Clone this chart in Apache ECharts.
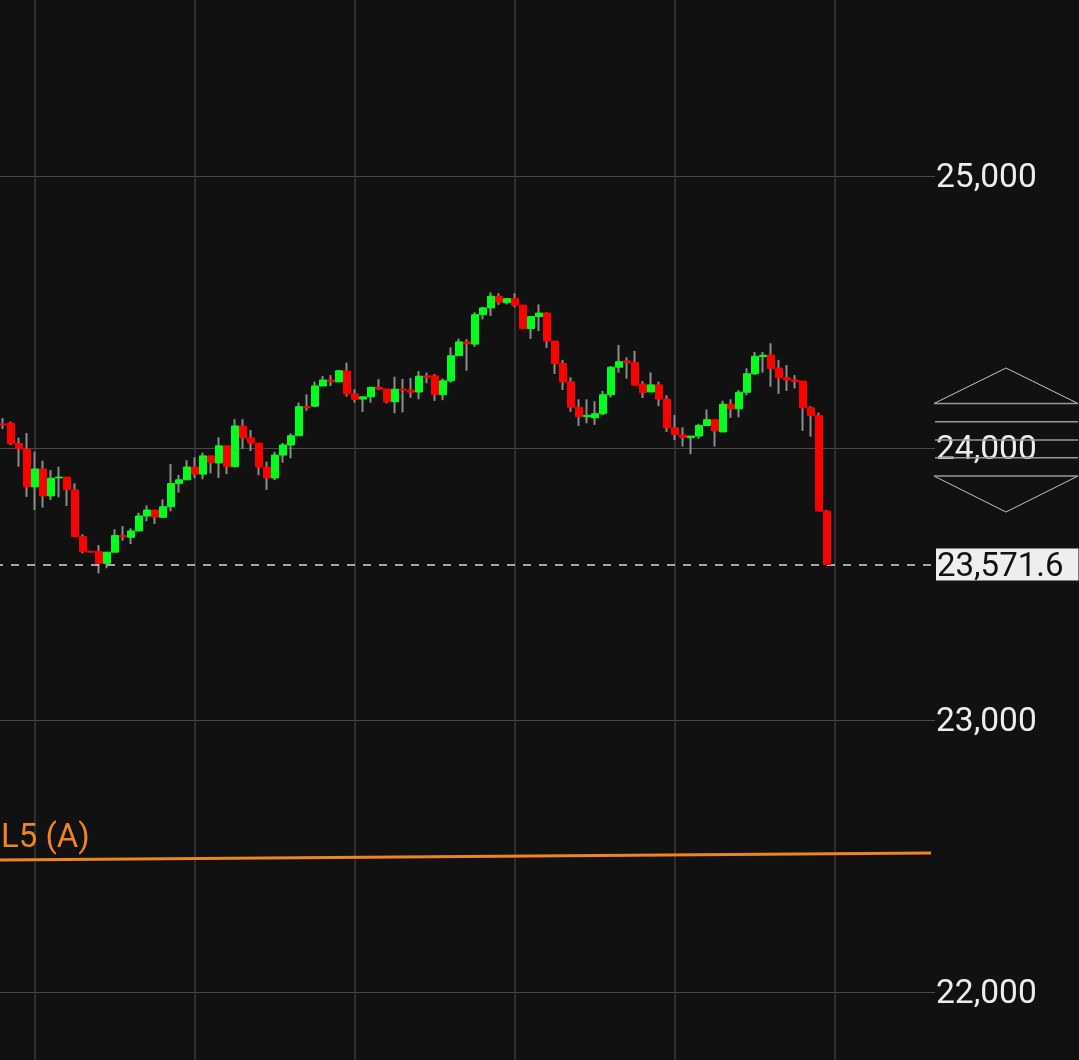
<!DOCTYPE html>
<html>
<head>
<meta charset="utf-8">
<style>
  html, body { margin: 0; padding: 0; background: #111; }
  #chart { width: 1079px; height: 1060px; }
</style>
<script src="https://cdn.jsdelivr.net/npm/echarts@6/dist/echarts.min.js"></script>
</head>
<body>
<div id="chart"></div>
<script>
var opens = [24088,24091,24016,23996,23857,23923,23824,23890,23893,23846,23674,23620,23619,23576,23617,23678,23672,23695,23750,23772,
  23745,23784,23869,23883,23930,23904,23971,23945,24008,23931,24081,24037,24018,23930,23890,23974,24011,24045,24152,24154,
  24228,24250,24243,24283,24199,24180,24188,24223,24217,24170,24217,24213,24206,24265,24265,24196,24247,24339,24390,24382,
  24490,24515,24558,24534,24549,24525,24439,24483,24496,24393,24311,24243,24150,24115,24111,24126,24196,24297,24320,24314,
  24235,24206,24232,24180,24074,24048,24038,24044,24083,24104,24059,24161,24144,24205,24273,24336,24342,24294,24258,24250,
  24246,24148,24119,23768];
var closes = [24085,24016,23997,23857,23923,23824,23889,23893,23847,23674,23619,23617,23576,23617,23678,23673,23695,23750,23772,23746,
  23784,23869,23883,23930,23904,23971,23946,24008,23931,24081,24037,24018,23930,23890,23974,24011,24045,24152,24148,24228,
  24250,24244,24284,24199,24179,24188,24223,24217,24170,24216,24213,24205,24264,24260,24196,24247,24339,24390,24383,24490,
  24515,24558,24536,24549,24525,24439,24483,24496,24393,24311,24243,24150,24115,24120,24126,24196,24297,24317,24314,24231,
  24204,24232,24180,24074,24050,24038,24044,24083,24104,24063,24161,24144,24205,24273,24337,24341,24292,24258,24250,24245,
  24148,24119,23768,23571.6];
var lows = [24070,24011,23931,23820,23772,23781,23809,23819,23787,23674,23613,23617,23539,23558,23617,23659,23647,23695,23731,23721,
  23745,23767,23836,23883,23889,23885,23907,23890,23904,23931,23997,23989,23900,23846,23882,23946,23962,24045,24137,24150,
  24228,24228,24243,24189,24167,24133,24167,24213,24164,24128,24131,24185,24179,24238,24173,24176,24240,24339,24284,24372,
  24473,24485,24526,24528,24517,24439,24401,24430,24368,24272,24213,24133,24081,24091,24085,24121,24186,24277,24255,24231,
  24184,24206,24154,24059,24029,24005,23977,24034,24081,24005,24059,24111,24113,24194,24268,24277,24225,24199,24210,24219,
  24063,24042,23768,23569];
var highs = [24110,24097,24038,24055,23986,23953,23919,23931,23893,23870,23683,23620,23643,23618,23701,23713,23705,23762,23789,23772,
  23811,23941,23901,23955,23966,23983,23971,24039,24008,24106,24106,24066,24018,23950,23986,24019,24054,24167,24197,24244,
  24265,24268,24287,24314,24216,24188,24225,24253,24217,24262,24254,24258,24283,24277,24272,24256,24370,24402,24400,24499,
  24519,24572,24569,24551,24569,24525,24485,24528,24499,24393,24324,24260,24179,24179,24172,24210,24301,24379,24333,24357,
  24246,24278,24244,24194,24121,24076,24044,24089,24142,24104,24174,24179,24213,24293,24353,24353,24385,24324,24305,24268,
  24246,24154,24130,23772];

var lastPrice = 23571.6;
var l5Values = [22485, 22511];
var l5Name = 'L5 (A)';
var yMin = 21000, yMax = 26000, yStep = 1000;

var padLeft = 1, padRight = 13;   // empty slots so the candles sit where they do in the app
var categories = [];
var wicks = [], bodies = [];
var i;
for (i = 0; i < padLeft + opens.length + padRight; i++) categories.push(String(i));
for (i = 0; i < padLeft; i++) { wicks.push('-'); bodies.push('-'); }
for (i = 0; i < opens.length; i++) {
  wicks.push([opens[i], closes[i], lows[i], highs[i]]);
  // body only, wick comes from the series under it
  bodies.push([opens[i], closes[i], Math.min(opens[i], closes[i]), Math.max(opens[i], closes[i])]);
}

var chart = echarts.init(document.getElementById('chart'));

var option = {
  backgroundColor: '#111111',
  animation: false,
  grid: { left: -5, width: 936, top: -96, height: 1360, outerBoundsMode: 'none' },
  xAxis: {
    type: 'category',
    data: categories,
    boundaryGap: false,
    axisLine: { show: false },
    axisTick: { show: false },
    axisLabel: { show: false },
    splitLine: {
      show: true,
      interval: function (idx) { return idx % 20 === 5; },
      lineStyle: { color: '#3a3a3a', width: 1.5 }
    }
  },
  yAxis: {
    type: 'value',
    position: 'right',
    min: yMin,
    max: yMax,
    interval: yStep,
    axisLine: { show: false },
    axisTick: { show: true, length: 4, lineStyle: { color: '#4a4a4a' } },
    axisLabel: {
      margin: 5,
      formatter: function (v) { return '{p|' + v.toLocaleString('en-US') + '}'; },
      rich: {
        p: { color: '#eeeeee', fontFamily: 'Roboto', fontSize: 33.5, lineHeight: 30, padding: [6, 0, 0, 0] }
      }
    },
    splitLine: { show: true, lineStyle: { color: '#4a4a4a', width: 1 } }
  },
  graphic: [
    // drag handle at the right
    { type: 'polyline', silent: true, z: 1, shape: { points: [[934, 403.5], [1006, 368], [1078, 403.5]] }, style: { stroke: '#c4c4c4', lineWidth: 1, fill: null } },
    { type: 'polyline', silent: true, z: 1, shape: { points: [[934, 476], [1006, 512], [1078, 476]] }, style: { stroke: '#c4c4c4', lineWidth: 1, fill: null } },
    { type: 'line', silent: true, z: 1, shape: { x1: 934, y1: 403.5, x2: 1078, y2: 403.5 }, style: { stroke: '#9a9a9a', lineWidth: 1.5 } },
    { type: 'line', silent: true, z: 1, shape: { x1: 935, y1: 421.7, x2: 1078, y2: 421.7 }, style: { stroke: '#9a9a9a', lineWidth: 1.5 } },
    { type: 'line', silent: true, z: 1, shape: { x1: 935, y1: 440, x2: 1078, y2: 440 }, style: { stroke: '#9a9a9a', lineWidth: 1.5 } },
    { type: 'line', silent: true, z: 1, shape: { x1: 935, y1: 457.7, x2: 1078, y2: 457.7 }, style: { stroke: '#9a9a9a', lineWidth: 1.5 } },
    { type: 'line', silent: true, z: 1, shape: { x1: 934, y1: 476, x2: 1078, y2: 476 }, style: { stroke: '#9a9a9a', lineWidth: 1.5 } },
    {
      type: 'text', silent: true, z: 5,
      style: { x: 1, y: 855, text: l5Name, fill: '#f0851f', font: '33px Roboto', textVerticalAlign: 'bottom' }
    }
  ],
  series: [
    {
      type: 'line',
      data: [[0, l5Values[0]], [categories.length - 1, l5Values[1]]],
      showSymbol: false,
      z: 3,
      lineStyle: { color: '#f0851f', width: 3 }
    },
    {
      type: 'candlestick',
      data: wicks,
      barWidth: 1,
      z: 4,
      itemStyle: { color: '#8c8c8c', color0: '#8c8c8c', borderColor: '#8c8c8c', borderColor0: '#8c8c8c', borderWidth: 2 },
      markLine: {
        silent: true,
        symbol: 'none',
        animation: false,
        lineStyle: { color: '#d8d8d8', type: [8, 8], width: 1.5 },
        label: {
          position: 'end',
          distance: 5,
          formatter: '{p|' + lastPrice.toLocaleString('en-US') + '}',
          backgroundColor: '#eeeeee',
          padding: [3, 15, 3, 1],
          rich: {
            p: { color: '#111111', fontFamily: 'Roboto', fontSize: 33, lineHeight: 26, padding: [6, 0, 0, 0] }
          }
        },
        data: [{ yAxis: lastPrice }]
      }
    },
    {
      type: 'candlestick',
      data: bodies,
      barWidth: 7,
      z: 5,
      itemStyle: { color: '#00ff1a', color0: '#ff0000', borderColor: '#00ff1a', borderColor0: '#ff0000', borderWidth: 1 }
    }
  ]
};

chart.setOption(option);
</script>
</body>
</html>
